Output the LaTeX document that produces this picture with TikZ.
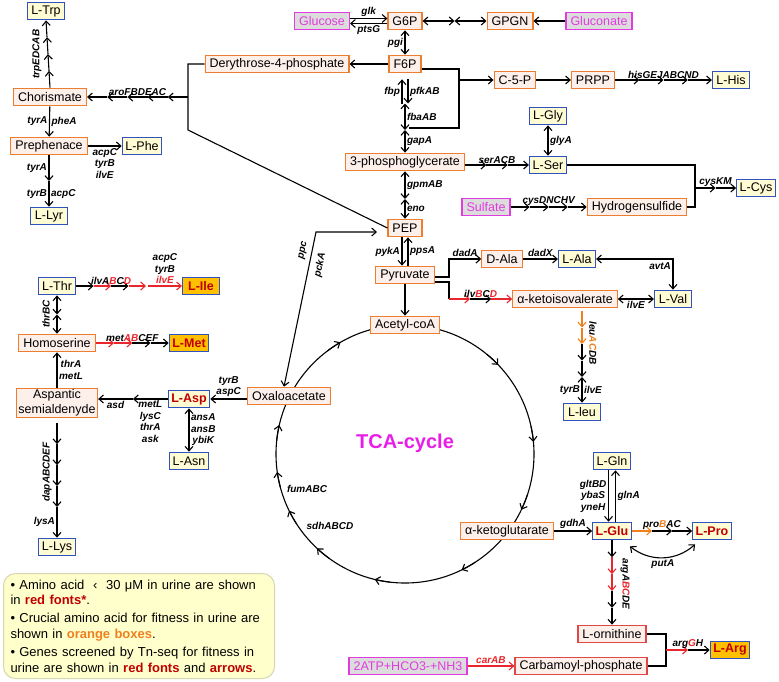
\documentclass[tikz,border=0pt]{standalone}
\usepackage{fontspec}
\setmainfont{Liberation Sans}
\usepackage{xcolor}
\usetikzlibrary{arrows.meta,positioning,calc,backgrounds}
\definecolor{boxorange}{HTML}{ED7D31}
\definecolor{boxpink}{HTML}{FDEFEA}
\definecolor{aablue}{HTML}{2F52BF}
\definecolor{aayellow}{HTML}{FFFBD2}
\definecolor{aagold}{HTML}{FFC000}
\definecolor{txtred}{HTML}{C00000}
\definecolor{genered}{HTML}{E8262B}
\definecolor{geneorange}{HTML}{F0801E}
\definecolor{srcmag}{HTML}{E03CE0}
\definecolor{srcgrey}{HTML}{DCDCDC}
\definecolor{boxred}{HTML}{E04848}
\definecolor{tcamag}{HTML}{E81DE8}
\definecolor{legfill}{HTML}{FFFFCC}
\definecolor{legline}{HTML}{D6D6B0}
\newcommand{\rtx}[1]{\textcolor{genered}{#1}}
\newcommand{\otx}[1]{\textcolor{geneorange}{#1}}

\begin{document}
\begin{tikzpicture}[x=1pt, y=1pt, >={Straight Barb[length=4.5pt,width=8pt]},
  metab/.style={draw=boxorange, fill=boxpink, line width=1.2pt, font=\fontsize{12.5}{15}\selectfont,
                inner xsep=4.5pt, inner ysep=1pt, minimum height=17.5pt},
  amino/.style={draw=aablue, fill=aayellow, line width=1.2pt, font=\fontsize{12.5}{15}\selectfont,
                inner xsep=3pt, inner ysep=1pt, minimum height=17.5pt, minimum width=37pt},
  aabold/.style={amino, text=txtred, font=\fontsize{12.5}{15}\selectfont\bfseries},
  aacrit/.style={aabold, fill=aagold},
  source/.style={metab, draw=srcmag, fill=srcgrey, text=srcmag},
  redbox/.style={metab, draw=boxred},
  gene/.style={font=\fontsize{10}{11.5}\selectfont\bfseries\itshape, inner sep=1.5pt, align=center},
  conn/.style={->, line width=1.1pt},
  dconn/.style={<->, line width=1.1pt},
  plain/.style={line width=1.1pt}]
  \useasboundingbox (0,0) rectangle (779,-681);

  % metabolites and amino acids
  \node[amino] (trp) at (46,-11) {L-Trp};
  \node[metab] (cho) at (50,-97) {Chorismate};
  \node[metab] (pre) at (49,-146) {Prephenace};
  \node[amino] (phe) at (142,-146) {L-Phe};
  \node[amino] (lyr) at (49,-216) {L-Lyr};
  \node[metab] (e4p) at (277,-64) {Derythrose-4-phosphate};
  \node[source] (glc) at (322,-21) {Glucose};
  \node[metab] (g6p) at (405,-21) {G6P};
  \node[metab] (gpgn) at (510,-21) {GPGN};
  \node[source] (gnt) at (599,-21) {Gluconate};
  \node[metab] (f6p) at (405,-64) {F6P};
  \node[metab] (c5p) at (515,-80) {C-5-P};
  \node[metab] (prpp) at (593,-80) {PRPP};
  \node[amino] (his) at (731,-80) {L-His};
  \node[amino] (gly) at (548,-116) {L-Gly};
  \node[metab] (pga) at (405,-162) {3-phosphoglycerate};
  \node[amino] (ser) at (548,-165) {L-Ser};
  \node[source] (sulf) at (486,-207) {Sulfate};
  \node[metab] (h2s) at (637,-207) {Hydrogensulfide};
  \node[amino] (cys) at (756,-188) {L-Cys};
  \node[metab] (pep) at (405,-228) {PEP};
  \node[metab] (pyr) at (405,-275) {Pyruvate};
  \node[metab] (accoa) at (405,-325) {Acetyl-coA};
  \node[metab] (dala) at (502,-259) {D-Ala};
  \node[amino] (lala) at (577,-259) {L-Ala};
  \node[metab] (kiv) at (565,-299) {α-ketoisovalerate};
  \node[amino] (val) at (673,-299) {L-Val};
  \node[amino] (leu) at (582,-412) {L-leu};
  \node[amino] (thr) at (57,-286) {L-Thr};
  \node[aacrit] (ile) at (201,-286) {L-Ile};
  \node[metab] (hse) at (57,-343) {Homoserine};
  \node[aacrit] (met) at (189,-343) {L-Met};
  \node[metab, align=center, inner xsep=2pt, font=\fontsize{12.5}{15.5}\selectfont] (asa) at (57,-403) {Aspantic\\semialdenyde};
  \node[aabold] (asp) at (189,-399) {L-Asp};
  \node[metab] (oaa) at (289,-396) {Oxaloacetate};
  \node[amino] (asn) at (189,-461) {L-Asn};
  \node[amino] (lys) at (57,-547) {L-Lys};
  \node[metab] (akg) at (507,-531) {α-ketoglutarate};
  \node[amino] (gln) at (612,-461) {L-Gln};
  \node[aabold] (glu) at (612,-531) {L-Glu};
  \node[aabold] (pro) at (712,-531) {L-Pro};
  \node[redbox] (orn) at (612,-634) {L-ornithine};
  \node[redbox] (cbp) at (581,-666) {Carbamoyl-phosphate};
  \node[aacrit] (arg) at (730,-650) {L-Arg};
  \node[source] (atp) at (408,-666) {2ATP+HCO3-+NH3};

  % glucose, gluconate, F6P
  \draw[conn] ([yshift=2.5pt]glc.east) -- ([yshift=2.5pt]g6p.west) node[gene,midway,above] (l-glk) {glk};
  \draw[conn] ([yshift=-2.5pt]g6p.west) -- ([yshift=-2.5pt]glc.east) node[gene,midway,below] (l-ptsg) {ptsG};
  \coordinate (gm) at ($(g6p.east)!0.5!(gpgn.west)$);
  \draw[dconn] (g6p.east) -- (gm);
  \draw[dconn] (gm) -- (gpgn.west);
  \draw[conn] (gnt) -- (gpgn);
  \draw[dconn] (g6p) -- (f6p) node[gene,midway,left] (l-pgi) {pgi};
  \draw[conn] (f6p) -- (e4p);

  % F6P down to 3-phosphoglycerate
  \coordinate (gly1) at (405,-103.5);
  \coordinate (gly2) at (405,-130);
  \draw[conn] ([xshift=-3pt]gly1) -- ([xshift=-3pt,yshift=-6pt]f6p.south) node[gene,midway,left] (l-fbp) {fbp};
  \draw[conn] ([xshift=3pt,yshift=-6pt]f6p.south) -- ([xshift=3pt]gly1) node[gene,midway,right] (l-pfk) {pfkAB};
  \draw[dconn] (gly1) -- (gly2) node[gene,midway,right] (l-fba) {fbaAB};
  \draw[dconn] (gly2) -- (pga.north) node[gene,midway,right] (l-gapa) {gapA};

  % pentose branch and histidine
  \coordinate (pppj) at (459,-80);
  \coordinate (pppb) at (459,-128);
  \coordinate (pppe) at (409,-128);
  \draw[plain] ([yshift=-5pt]f6p.east) -| (pppb) -- (pppe);
  \draw[conn] (pppj) -- (c5p.west);
  \draw[conn] (c5p) -- (prpp);
  \foreach \i in {0,...,3}
    \draw[conn] ($(prpp.east)!\i/4!(his.west)$) -- ($(prpp.east)!{(\i+1)/4}!(his.west)$);
  \path (prpp.east) -- (his.west) node[gene,midway,above] (l-his) {hisGEJABCND};

  % serine, glycine, cysteine
  \coordinate (serin) at (pga.east |- ser);
  \foreach \i in {0,...,2}
    \draw[conn] ($(serin)!\i/3!(ser.west)$) -- ($(serin)!{(\i+1)/3}!(ser.west)$);
  \path (serin) -- (ser.west) node[gene,midway,above] (l-ser) {serACB};
  \draw[dconn] (gly) -- (ser) node[gene,midway,right] (l-glya) {glyA};
  \coordinate (cysj) at (695,-188);
  \draw[plain] (ser.east) -| (cysj);
  \draw[plain] (h2s.east) -| (cysj);
  \foreach \i in {0,1}
    \draw[conn] ($(cysj)!\i/2!(cys.west)$) -- ($(cysj)!{(\i+1)/2}!(cys.west)$);
  \path (cysj) -- (cys.west) node[gene,midway,above] (l-cys) {cysKM};
  \foreach \i in {0,...,3}
    \draw[conn] ($(sulf.east)!\i/4!(h2s.west)$) -- ($(sulf.east)!{(\i+1)/4}!(h2s.west)$);
  \path (sulf.east) -- (h2s.west) node[gene,midway,above] (l-sulf) {cysDNCHV};

  % PEP and pyruvate
  \coordinate (gly3) at (405,-199);
  \draw[dconn] (pga.south) -- (gly3) node[gene,midway,right] (l-gpm) {gpmAB};
  \draw[dconn] (gly3) -- (pep.north) node[gene,midway,right] (l-eno) {eno};
  \draw[conn] ([xshift=-3pt]pep.south) -- ([xshift=-3pt]pyr.north) node[gene,midway,left] (l-pyk) {pykA};
  \draw[conn] ([xshift=3pt]pyr.north) -- ([xshift=3pt]pep.south) node[gene,midway,right] (l-pps) {ppsA};
  \draw[conn] (pyr) -- (accoa);

  % alanine, valine, leucine
  \coordinate (pyrj) at (449,-275);
  \coordinate (kivin) at (pyrj |- kiv);
  \draw[conn] ([yshift=-2pt]pyr.east) -| (pyrj |- dala) -- (dala.west) node[gene,midway,above] (l-dada) {dadA};
  \draw[plain] ([yshift=-7pt]pyr.east) -| (kivin);
  \foreach \c [count=\i from 0] in {genered,black,genered}
    \draw[conn,\c] ($(kivin)!\i/3!(kiv.west)$) -- ($(kivin)!{(\i+1)/3}!(kiv.west)$);
  \path (kivin) -- (kiv.west) node[gene,midway,above] (l-ilvb) {ilv\rtx{B}C\rtx{D}};
  \draw[conn] (dala) -- (lala) node[gene,midway,above] (l-dadx) {dadX};
  \draw[dconn] (lala.east) -| (val.north) node[gene,pos=0.62,left] (l-avta) {avtA};
  \draw[dconn] (kiv) -- (val) node[gene,midway,below] (l-ilve1) {ilvE};
  \coordinate (leuin) at (582,-311);
  \coordinate (leuj) at (582,-377);
  \foreach \c [count=\i from 0] in {geneorange,geneorange,black,black}
    \draw[conn,\c] ($(leuin)!\i/4!(leuj)$) -- ($(leuin)!{(\i+1)/4}!(leuj)$);
  \node[gene,rotate=-90] (l-leu) at (593,-343) {leu\otx{AC}DB};
  \draw[dconn] (leuj) -- (leu.north) node[gene,midway,left] (l-tyrb3) {tyrB} node[gene,midway,right] (l-ilve2) {ilvE};

  % threonine, isoleucine, methionine
  \coordinate (thrj) at (146,-286);
  \foreach \c [count=\i from 0] in {black,genered,black,genered}
    \draw[conn,\c] ($(thr.east)!\i/4!(thrj)$) -- ($(thr.east)!{(\i+1)/4}!(thrj)$);
  \path (thr.east) -- (thrj) node[gene,midway,above] (l-ilva) {ilvA\rtx{B}C\rtx{D}};
  \draw[conn,genered] ([xshift=2pt]thrj) -- (ile.west) node[gene,midway,above,text=black] (l-ile) {acpC\\tyrB\\\rtx{ilvE}};
  \coordinate (thrm) at ($(thr.south)!0.5!(hse.north)$);
  \draw[dconn] (thr.south) -- (thrm);
  \draw[dconn] (thrm) -- (hse.north);
  \node[gene,rotate=90] (l-thrbc) at (46,-314) {thrBC};
  \foreach \c [count=\i from 0] in {genered,genered,black,black}
    \draw[conn,\c] ($(hse.east)!\i/4!(met.west)$) -- ($(hse.east)!{(\i+1)/4}!(met.west)$);
  \path (hse.east) -- (met.west) node[gene,midway,above] (l-met) {met\rtx{AB}CEF};
  \draw[conn] (asa) -- (hse) node[gene,midway,right] (l-thra) {thrA\\metL};

  % aspartate, asparagine, lysine
  \coordinate (aspin) at (asa.east |- asp);
  \coordinate (aspj) at ($(asp.west)!0.5!(aspin)$);
  \draw[conn] (asp.west) -- (aspj) node[gene,midway,below] (l-metl) {metL\\lysC\\thrA\\ask};
  \draw[conn] (aspj) -- (aspin) node[gene,midway,below] (l-asd) {asd};
  \draw[conn] (oaa.west |- asp) -- (asp.east) node[gene,midway,above] (l-aspc) {tyrB\\aspC};
  \draw[dconn] (asp) -- (asn) node[gene,midway,right] (l-ansa) {ansA\\ansB\\ybiK};
  \coordinate (asaout) at ([yshift=-5pt]asa.south);
  \coordinate (lysj) at (57,-507);
  \foreach \i in {0,...,3}
    \draw[conn] ($(asaout)!\i/4!(lysj)$) -- ($(asaout)!{(\i+1)/4}!(lysj)$);
  \node[gene,rotate=90] (l-dap) at (47,-472) {dapABCDEF};
  \draw[conn] (lysj) -- (lys.north) node[gene,midway,left] (l-lysa) {lysA};

  % aromatic amino acids
  \foreach \i in {0,...,3}
    \draw[conn] ($(cho.north)!\i/4!(trp.south)$) -- ($(cho.north)!{(\i+1)/4}!(trp.south)$);
  \node[gene,rotate=90] (l-trp) at (37,-54) {trpEDCAB};
  \coordinate (aroj) at (188,-97);
  \coordinate (arob) at (188,-130);
  \draw[plain] (e4p.west) -| (arob) -- (pep.west);
  \foreach \i in {0,...,4}
    \draw[conn] ($(aroj)!\i/5!(cho.east)$) -- ($(aroj)!{(\i+1)/5}!(cho.east)$);
  \path (aroj) -- (cho.east) node[gene,midway,above] (l-aro) {aroFBDEAC};
  \draw[conn] (cho) -- (pre) node[gene,midway,left] (l-tyra1) {tyrA} node[gene,midway,right] (l-phea) {pheA};
  \draw[conn] (pre) -- (phe) node[gene,midway,below] (l-phe) {acpC\\tyrB\\ilvE};
  \coordinate (prej) at ($(pre.south)!0.5!(lyr.north)$);
  \draw[conn] (pre.south) -- (prej) node[gene,midway,left] (l-tyra2) {tyrA};
  \draw[conn] (prej) -- (lyr.north) node[gene,midway,left] (l-tyrb1) {tyrB} node[gene,midway,right] (l-acpc) {acpC};

  % PEP <-> oxaloacetate
  \coordinate (ppcj) at (316,-232);
  \coordinate (pepin) at (377,-232);
  \draw[dconn] (pepin) -- (ppcj) -- ([xshift=-5pt]oaa.north)
    node[gene,pos=0.13,sloped,above=3pt] (l-ppc) {ppc} node[gene,pos=0.2,sloped,below=4pt] (l-pcka) {pckA};

  % TCA cycle
  \coordinate (tca) at (405,-454);
  \node[font=\fontsize{20}{24}\selectfont\bfseries, text=tcamag] (tcalbl) at (405,-443) {TCA-cycle};
  \node[gene] (l-fum) at (307,-489) {fumABC};
  \node[gene] (l-sdh) at (330,-526) {sdhABCD};
  \begin{scope}[on background layer]
    \draw[plain] (tca) circle[radius=129];
    \foreach \a in {43.7,5.4,-25.6,-64,-103.6,-133,-154,-172,167,120}
      \draw[conn] ($(tca)+(\a+7:129)$) arc[start angle=\a+7, end angle=\a, radius=129];
  \end{scope}

  % glutamate, glutamine, proline, arginine
  \draw[conn] (akg) -- (glu) node[gene,midway,above] (l-gdha) {gdhA};
  \draw[conn] ([xshift=-3.5pt]gln.south) -- ([xshift=-3.5pt]glu.north) node[gene,midway,left] (l-gltb) {gltBD\\ybaS\\yneH};
  \draw[conn] ([xshift=3.5pt]glu.north) -- ([xshift=3.5pt]gln.south) node[gene,midway,right] (l-glna) {glnA};
  \foreach \c [count=\i from 0] in {geneorange,black,black}
    \draw[conn,\c] ($(glu.east)!\i/3!(pro.west)$) -- ($(glu.east)!{(\i+1)/3}!(pro.west)$);
  \path (glu.east) -- (pro.west) node[gene,midway,above] (l-pro) {pro\otx{B}AC};
  \draw[dconn] ([shift={(-2pt,-6pt)}]glu.south east) to[bend right=40]
    node[gene,midway,below] (l-puta) {putA} ([shift={(3pt,-4pt)}]pro.south west);
  \foreach \c [count=\i from 0] in {black,genered,genered,black,black}
    \draw[conn,\c] ($(glu.south)!\i/5!(orn.north)$) -- ($(glu.south)!{(\i+1)/5}!(orn.north)$);
  \node[gene,rotate=-90] (l-arga) at (625,-584) {argA\rtx{BC}DE};
  \coordinate (argj) at (666,-650);
  \draw[plain] (orn.east) -| (argj);
  \draw[plain] (cbp.east) -| (argj);
  \foreach \c [count=\i from 0] in {genered,black}
    \draw[conn,\c] ($(argj)!\i/2!(arg.west)$) -- ($(argj)!{(\i+1)/2}!(arg.west)$);
  \path (argj) -- (arg.west) node[gene,midway,above] (l-arggh) {arg\rtx{G}H};
  \draw[conn,genered] (atp) -- (cbp) node[gene,midway,above] (l-car) {carAB};

  % legend
  \node[draw=legline, fill=legfill, rounded corners=12pt, line width=1pt, anchor=north west,
        text width=257pt, inner xsep=7pt, inner ysep=5pt, align=left, minimum height=105pt,
        font=\fontsize{13}{15.8}\selectfont] (legend) at (3,-573) {%
    \textbullet\ Amino acid \ ‹ \ 30 μM in urine are shown\\
    in \textcolor{txtred}{\bfseries red fonts*}.\\[2pt]
    \textbullet\ Crucial amino acid for fitness in urine are\\
    shown in \textcolor{geneorange}{\bfseries orange boxes}.\\[2pt]
    \textbullet\ Genes screened by Tn-seq for fitness in\\
    urine are shown in \textcolor{txtred}{\bfseries red fonts} and \textcolor{txtred}{\bfseries arrows}.};
\end{tikzpicture}
\end{document}
